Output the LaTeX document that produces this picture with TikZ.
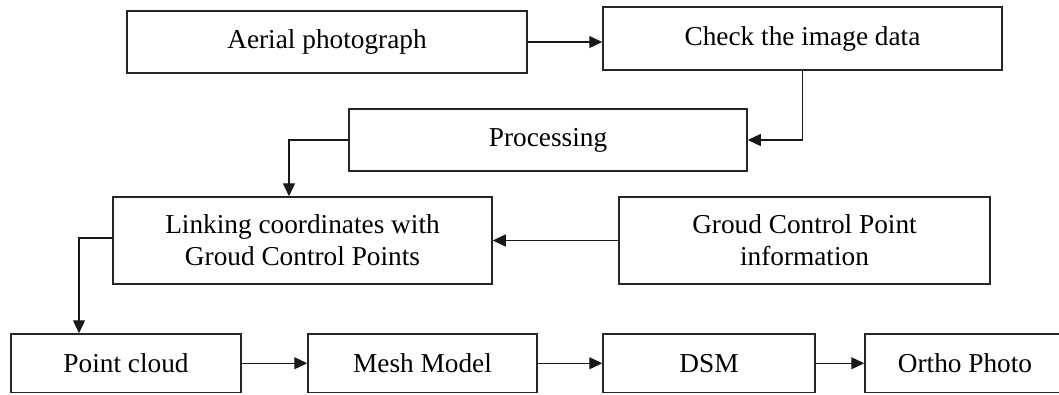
\documentclass[tikz,border=0pt]{standalone}
\usepackage{fontspec}
\setmainfont{Liberation Serif}
\usetikzlibrary{arrows.meta}
\begin{document}
\begin{tikzpicture}[x=1pt,y=-1pt,
  box/.style={draw=black!85,line width=1.5pt,rectangle,inner sep=0pt,align=center,
    font=\fontsize{27.3}{32}\selectfont},
  arr/.style={draw=black!90,line width=1.3pt,-{Triangle[length=13pt,width=12pt]}}]
\useasboundingbox (0,0) rectangle (1059,394);
\node[box,minimum width=400pt,minimum height=62pt] (aerial) at (327,42) {Aerial photograph};
\node[box,minimum width=399pt,minimum height=63pt] (check) at (802.5,38.5) {Check the image data};
\node[box,minimum width=398pt,minimum height=62pt] (proc) at (548,140) {Processing};
\node[box,minimum width=379pt,minimum height=87pt] (link) at (302.5,240.5) {Linking coordinates with\\Groud Control Points};
\node[box,minimum width=371pt,minimum height=87pt] (gcp) at (804.5,240.5) {Groud Control Point\\information};
\node[box,minimum width=230pt,minimum height=58.5pt] (pc) at (126,363.25) {Point cloud};
\node[box,minimum width=229pt,minimum height=58.5pt] (mesh) at (422.5,363.25) {Mesh Model};
\node[box,minimum width=212pt,minimum height=58.5pt] (dsm) at (709,363.25) {DSM};
\node[box,minimum width=200pt,minimum height=58.5pt] (ortho) at (965,363.25) {Ortho Photo};
\coordinate (j1) at (289,140);
\coordinate (j2) at (79,238);
\draw[arr] (aerial.east) -- (aerial.east -| check.west);
\draw[arr] (check.south) |- (proc.east);
\draw[arr] (proc.west) -- (j1) -- (j1 |- link.north);
\draw[arr] (gcp.west) -- (link.east);
\draw[arr] (link.west |- j2) -- (j2) -- (j2 |- pc.north);
\draw[arr] (pc.east) -- (mesh.west);
\draw[arr] (mesh.east) -- (dsm.west);
\draw[arr] (dsm.east) -- (ortho.west);
\end{tikzpicture}
\end{document}
